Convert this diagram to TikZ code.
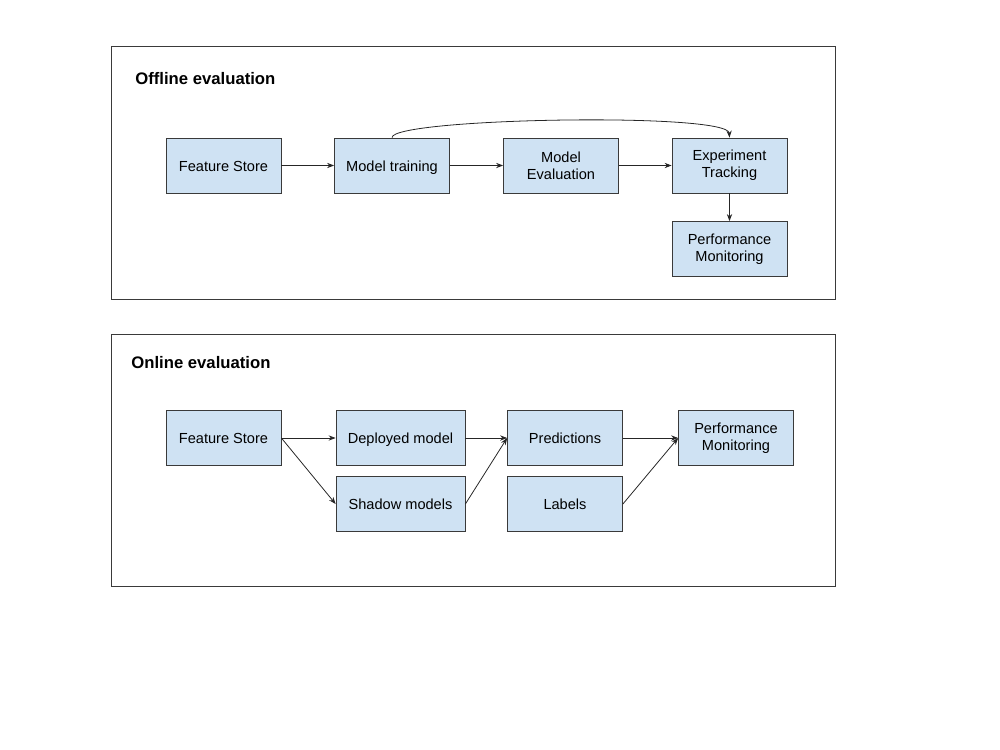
\documentclass[tikz,border=0pt]{standalone}
\usepackage{fontspec}
\setmainfont{Liberation Sans}
\usepackage{tikz}
\usetikzlibrary{arrows.meta,positioning}

\definecolor{boxblue}{HTML}{CFE2F3}
\definecolor{edge}{HTML}{3A3A3A}

\begin{document}
\begin{tikzpicture}[
    x=0.02cm, y=-0.02cm,
    frame/.style={draw=edge, line width=0.45pt},
    blk/.style={draw=edge, fill=boxblue, line width=0.45pt, minimum width=2.3cm, minimum height=1.1cm, align=center, inner sep=1pt, font=\fontsize{8.3}{9.8}\selectfont},
    oneline/.style={text height=1.55ex, text depth=0.35ex},
    wblk/.style={blk, minimum width=2.58cm},
    ttl/.style={anchor=west, inner sep=0pt, font=\fontsize{9.5}{11}\selectfont\bfseries},
    arr/.style={-{Stealth[length=4pt,width=3pt]}, line width=0.45pt, draw=black!85},
]
\useasboundingbox (0,0) rectangle (1000,750);

% Offline evaluation
\draw[frame] (111,46) rectangle (835,299);
\node[ttl] (offttl) at (135,79) {Offline evaluation};

\node[blk, oneline] (fs1) at (223.5,165.5) {Feature Store};
\node[blk, oneline] (train) at (392,165.5) {Model training};
\node[blk] (eval) at (561,165.5) {Model\\Evaluation};
\node[blk] (track) at (729.5,165.5) {Experiment\\Tracking};
\node[blk] (mon1) at (729.5,249) {Performance\\Monitoring};

\draw[arr] (fs1) -- (train);
\draw[arr] (train) -- (eval);
\draw[arr] (eval) -- (track);
\draw[arr] (track) -- (mon1);
\draw[arr] (train.north) .. controls (392,118) and (728,112) .. (track.north);

% Online evaluation
\draw[frame] (111,334) rectangle (835,586);
\node[ttl] (onttl) at (131,363) {Online evaluation};

\node[blk, oneline] (fs2) at (223.5,438) {Feature Store};
\node[wblk, oneline] (deploy) at (400.5,438) {Deployed model};
\node[wblk, oneline] (shadow) at (400.5,504) {Shadow models};
\node[blk, oneline] (pred) at (565,438) {Predictions};
\node[blk, oneline] (labels) at (565,504) {Labels};
\node[blk] (mon2) at (736,438) {Performance\\Monitoring};

\draw[arr] (fs2.east) -- (deploy.west);
\draw[arr] (fs2.east) -- (shadow.west);
\draw[arr] (deploy.east) -- (pred.west);
\draw[arr] (shadow.east) -- (pred.west);
\draw[arr] (pred.east) -- (mon2.west);
\draw[arr] (labels.east) -- (mon2.west);
\end{tikzpicture}
\end{document}
